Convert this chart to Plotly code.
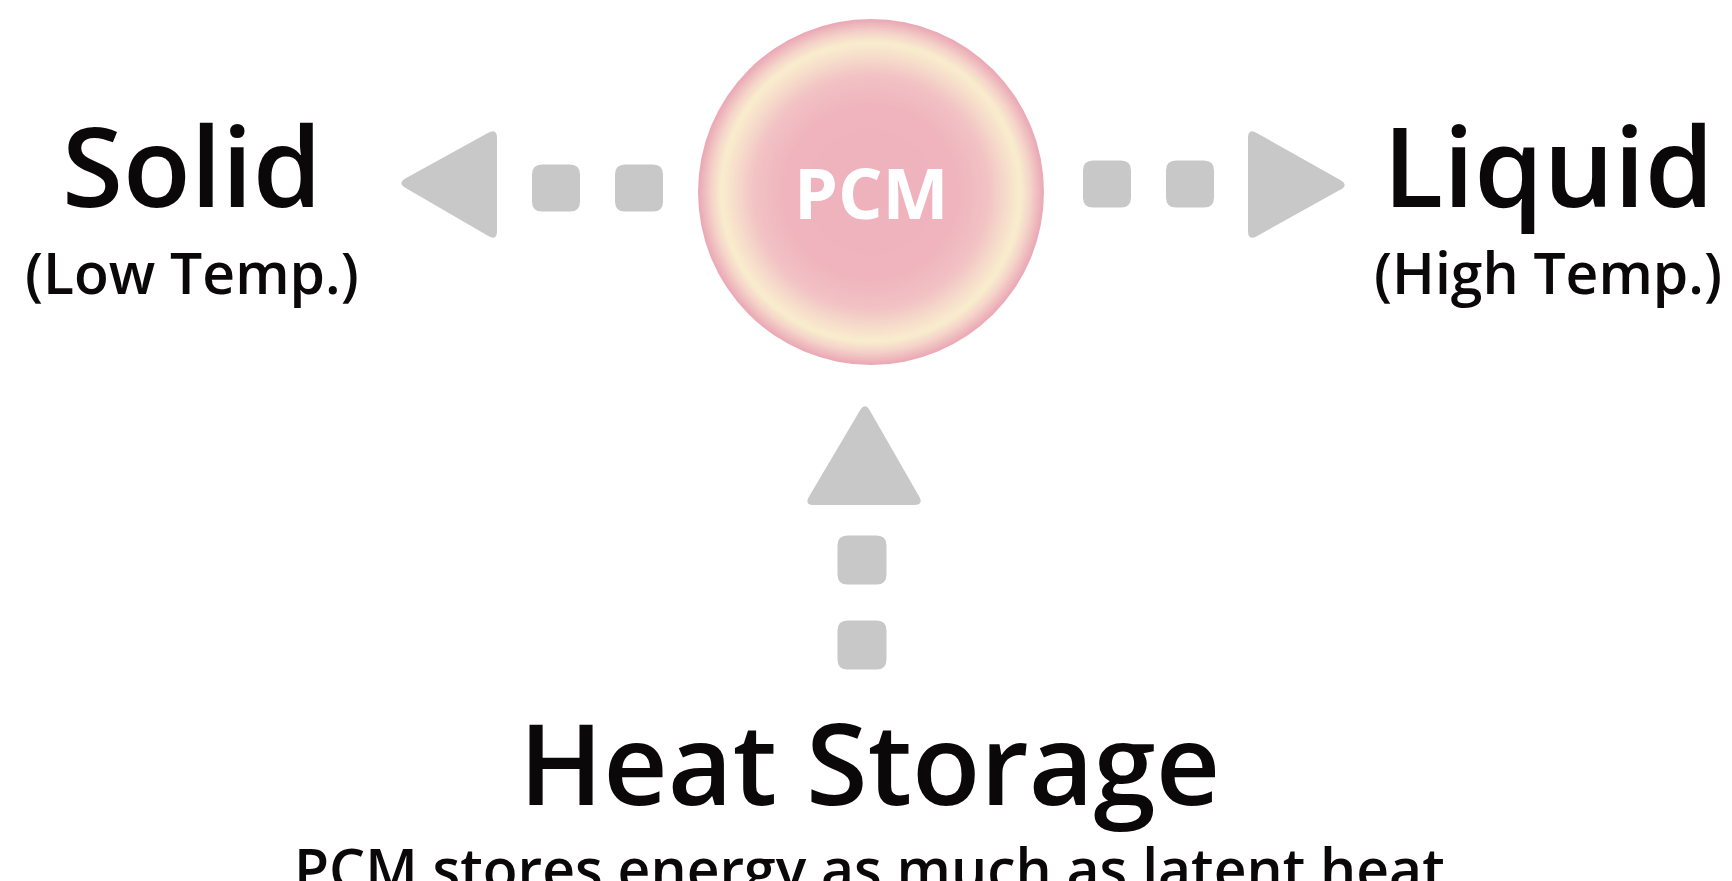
import plotly.graph_objects as go

# ---- content (text) ----
center_label = "PCM"
state_labels = ["Solid", "Liquid"]
state_notes = ["(Low Temp.)", "(High Temp.)"]
process_title = "Heat Storage"
process_note = "PCM stores energy as much as latent heat"

# ---- layout geometry (pixel space of a 1732x881 canvas) ----
W, H = 1732, 881
CIRCLE_C = (871, 192)
CIRCLE_R = 173
STATE_X = [192, 1548]
TITLE_Y = 164
NOTE_Y = 272
HEAT_Y = 761
HEAT_NOTE_Y = 868
HEAT_X = 869

GREY = "rgb(200,200,200)"
FONT = "Open Sans"


def rounded_poly(pts, r):
    n = len(pts)
    segs = []
    for i in range(n):
        p = pts[i]
        a = pts[i - 1]
        b = pts[(i + 1) % n]

        def toward(q, d):
            dx, dy = q[0] - p[0], q[1] - p[1]
            L = (dx * dx + dy * dy) ** 0.5
            return (p[0] + dx / L * d, p[1] + dy / L * d)

        segs.append((toward(a, r), p, toward(b, r)))
    path = "M %.2f,%.2f" % segs[0][0]
    for k, (s, c, e) in enumerate(segs):
        if k > 0:
            path += " L %.2f,%.2f" % s
        path += " Q %.2f,%.2f %.2f,%.2f" % (c[0], c[1], e[0], e[1])
    path += " Z"
    return path


def rrect(cx, cy, w, h, r):
    x0, x1, y0, y1 = cx - w / 2, cx + w / 2, cy - h / 2, cy + h / 2
    return rounded_poly([(x0, y0), (x1, y0), (x1, y1), (x0, y1)], r)


shapes = []

# radial gradient circle approximated with concentric discs
stops = [
    (0.00, (238, 178, 189)),
    (0.50, (239, 180, 190)),
    (0.68, (242, 194, 196)),
    (0.79, (246, 220, 203)),
    (0.87, (249, 237, 205)),
    (0.93, (244, 210, 201)),
    (1.00, (235, 170, 182)),
]


def col(t):
    for (t0, c0), (t1, c1) in zip(stops[:-1], stops[1:]):
        if t0 <= t <= t1:
            f = (t - t0) / (t1 - t0) if t1 > t0 else 0
            return "rgb(%d,%d,%d)" % tuple(round(c0[j] + (c1[j] - c0[j]) * f) for j in range(3))
    return "rgb(%d,%d,%d)" % stops[-1][1]


N = 90
cx, cy = CIRCLE_C
for i in range(N, 0, -1):
    t = i / N
    rr = CIRCLE_R * t
    shapes.append(dict(type="circle", xref="x", yref="y",
                       x0=cx - rr, x1=cx + rr, y0=cy - rr, y1=cy + rr,
                       fillcolor=col(t), line=dict(width=0), layer="below"))

# left arrow
shapes.append(dict(type="path", path=rounded_poly([(397, 183), (497, 128), (497, 241)], 10),
                   fillcolor=GREY, line=dict(width=0)))
for sx in (556, 639):
    shapes.append(dict(type="path", path=rrect(sx, 188, 48, 47, 10), fillcolor=GREY, line=dict(width=0)))

# right arrow
shapes.append(dict(type="path", path=rounded_poly([(1349, 185), (1248, 241), (1248, 128)], 10),
                   fillcolor=GREY, line=dict(width=0)))
for sx in (1107, 1190):
    shapes.append(dict(type="path", path=rrect(sx, 184, 48, 47, 10), fillcolor=GREY, line=dict(width=0)))

# up arrow
shapes.append(dict(type="path", path=rounded_poly([(865, 402), (924, 505), (804, 505)], 10),
                   fillcolor=GREY, line=dict(width=0)))
for sy in (560, 645):
    shapes.append(dict(type="path", path=rrect(862, sy, 49, 49, 10), fillcolor=GREY, line=dict(width=0)))

annotations = []


def ann(text, x, y, size, color="#0a0808", weight=650):
    annotations.append(dict(text=text, x=x, y=y, xref="x", yref="y",
                            xanchor="center", yanchor="middle", showarrow=False,
                            font=dict(family=FONT, size=size, color=color, weight=weight)))


ann(center_label, cx, cy, 70, "white", 700)
for lab, note, x in zip(state_labels, state_notes, STATE_X):
    ann(lab, x, TITLE_Y, 111)
    ann(note, x, NOTE_Y, 57)
ann(process_title, HEAT_X, HEAT_Y, 112)
ann(process_note, HEAT_X, HEAT_NOTE_Y, 57)

fig = go.Figure()
fig.update_layout(
    width=W, height=H, margin=dict(l=0, r=0, t=0, b=0),
    paper_bgcolor="white", plot_bgcolor="white",
    xaxis=dict(range=[0, W], visible=False, fixedrange=True),
    yaxis=dict(range=[H, 0], visible=False, fixedrange=True),
    shapes=shapes, annotations=annotations, showlegend=False,
)
fig.write_html("out.html", config={"displayModeBar": False},
               post_script="document.body.style.margin='0';document.body.style.overflow='hidden';")
